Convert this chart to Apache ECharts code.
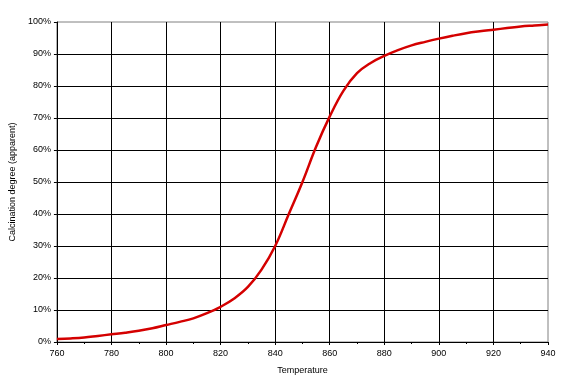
<!DOCTYPE html>
<html>
<head>
<meta charset="utf-8">
<script src="https://cdn.jsdelivr.net/npm/echarts@6/dist/echarts.min.js"></script>
<style>html,body{margin:0;padding:0;background:#fff;}#c{width:563px;height:385px;}</style>
</head>
<body>
<div id="c"></div>
<script>
const temperature = [760,765,770,775,780,785,790,795,800,805,810,815,820,825,830,835,840,845,850,855,860,865,870,875,880,885,890,895,900,905,910,915,920,925,930,935,940];
const calcination = [0.9,1.1,1.4,1.9,2.4,2.9,3.5,4.3,5.3,6.3,7.4,9.0,11.0,13.6,17.2,22.6,30,40,50,61,70.5,78.5,84,87.2,89.4,91.2,92.7,93.8,94.8,95.7,96.5,97.1,97.6,98.1,98.6,98.9,99.2];
const xTicks = {min:760, max:940, interval:20};
const yTicks = {min:0, max:100, interval:10};

const chart = echarts.init(document.getElementById('c'), null, {renderer:'canvas'});
const font = 'Liberation Sans, Arial, sans-serif';
chart.setOption({
  animation:false,
  backgroundColor:'#fff',
  grid:{left:53,right:15,top:22,bottom:43,show:true,borderColor:'#808080',borderWidth:1,backgroundColor:'#fff'},
  xAxis:{
    type:'value', min:xTicks.min, max:xTicks.max, interval:xTicks.interval,
    name:'Temperature', nameLocation:'middle', nameGap:24,
    nameTextStyle:{fontFamily:font,fontSize:9,color:'#000'},
    axisLine:{lineStyle:{color:'#000',width:1}},
    axisTick:{show:true,length:3,lineStyle:{color:'#000'}},
    minorTick:{show:true,splitNumber:2,length:2,lineStyle:{color:'#000'}},
    axisLabel:{fontFamily:font,fontSize:9,color:'#000',margin:7},
    splitLine:{show:true,showMaxLine:false,lineStyle:{color:'#000',width:1}}
  },
  yAxis:{
    type:'value', min:yTicks.min, max:yTicks.max, interval:yTicks.interval,
    name:'Calcination degree (apparent)', nameLocation:'middle', nameGap:30,
    nameTextStyle:{fontFamily:font,fontSize:9,color:'#000'},
    axisLine:{show:true,lineStyle:{color:'#000',width:1}},
    axisTick:{show:true,length:3,lineStyle:{color:'#000'}},
    axisLabel:{fontFamily:font,fontSize:9,color:'#000',margin:6,formatter:v=>v+'%'},
    splitLine:{show:true,showMaxLine:false,lineStyle:{color:'#000',width:1}}
  },
  series:[{
    type:'line', smooth:0.4, showSymbol:false,
    data:temperature.map((t,i)=>[t,calcination[i]]),
    lineStyle:{color:'#d40000',width:2.5}
  }]
});
</script>
</body>
</html>
